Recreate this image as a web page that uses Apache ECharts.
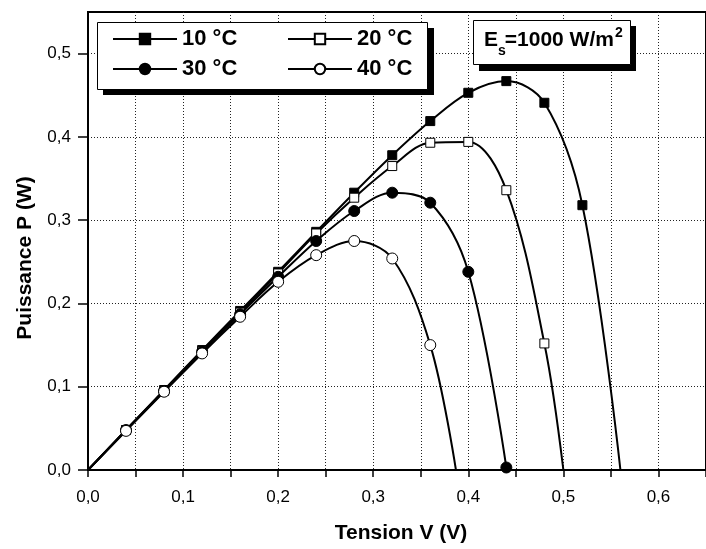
<!DOCTYPE html>
<html>
<head>
<meta charset="utf-8">
<script src="https://cdn.jsdelivr.net/npm/echarts@6/dist/echarts.min.js"></script>
<style>
  html, body { margin: 0; padding: 0; background: #fff; }
  #chart { width: 706px; height: 549px; }
</style>
</head>
<body>
<div id="chart"></div>
<script>
// tensions des points mesurés (V)
var volts = [0.04, 0.08, 0.12, 0.16, 0.20, 0.24, 0.28, 0.32, 0.36, 0.40, 0.44, 0.48, 0.52];
// puissance (W) par température
var p10 = [0.048, 0.096, 0.144, 0.191, 0.238, 0.286, 0.333, 0.378, 0.419, 0.453, 0.467, 0.441, 0.318];
var p20 = [0.048, 0.095, 0.143, 0.189, 0.236, 0.284, 0.327, 0.365, 0.393, 0.394, 0.336, 0.152];
var p30 = [0.048, 0.095, 0.142, 0.187, 0.232, 0.275, 0.311, 0.333, 0.321, 0.238, 0.003];
var p40 = [0.047, 0.094, 0.140, 0.184, 0.226, 0.258, 0.275, 0.254, 0.150];
// tension de circuit ouvert (fin de courbe)
var vOc = [0.56, 0.50, null, 0.387];
var names = ['10 °C', '20 °C', '30 °C', '40 °C'];
var xTicks = [0, 0.1, 0.2, 0.3, 0.4, 0.5, 0.6];
var yTicks = [0, 0.1, 0.2, 0.3, 0.4, 0.5];

var FONT = 'Liberation Sans, Arial, sans-serif';

function build(ps, voc) {
  var d = [{ value: [0, 0], symbol: 'none' }];
  ps.forEach(function (p, i) { d.push([volts[i], p]); });
  if (voc) d.push({ value: [voc, 0], symbol: 'none' });
  return d;
}

function fmt(v) { return v.toFixed(1).replace('.', ','); }

var dotted = { show: true, lineStyle: { color: '#222', width: 1, type: [1, 2] } };

function serie(i, ps, symbol, size, filled) {
  return {
    type: 'line',
    name: names[i],
    data: build(ps, vOc[i]),
    smooth: 0.35,
    symbol: symbol,
    symbolSize: size,
    z: 3 + i,
    lineStyle: { color: '#000', width: 2 },
    itemStyle: filled
      ? { color: '#000', borderColor: '#000', borderWidth: 1 }
      : { color: '#fff', borderColor: '#000', borderWidth: 1 },
    emphasis: { disabled: true }
  };
}

function legendAt(name, left, top) {
  return {
    data: [name], left: left, top: top, padding: 0,
    itemWidth: 64, itemHeight: 13, selectedMode: false, z: 20,
    textStyle: { fontSize: 22, fontWeight: 'bold', color: '#000', fontFamily: FONT }
  };
}

// mesure du texte pour placer indice / exposant
var ctx = document.createElement('canvas').getContext('2d');
function tw(txt, size) { ctx.font = 'bold ' + size + 'px ' + FONT; return ctx.measureText(txt).width; }
var eX = 484;
var sX = eX + tw('E', 21);
var restX = sX + tw('s', 14) - 1;
var supX = restX + tw('=1000 W/m', 21) + 1;

var chart = echarts.init(document.getElementById('chart'));
chart.setOption({
  animation: false,
  backgroundColor: '#fff',
  grid: {
    left: 88, top: 12, width: 625, height: 464,
    show: true, borderColor: '#000', borderWidth: 2, backgroundColor: 'transparent'
  },
  xAxis: {
    type: 'value', min: 0, max: 0.65, interval: 0.05,
    name: 'Tension V (V)', nameLocation: 'middle', nameGap: 53,
    nameTextStyle: { fontSize: 21, fontWeight: 'bold', color: '#000', fontFamily: FONT, padding: [0, 0, 0, 8] },
    axisLine: { show: true, onZero: false, lineStyle: { color: '#000', width: 2 } },
    axisTick: { show: true, length: 7, lineStyle: { color: '#000', width: 1.5 } },
    axisLabel: {
      customValues: xTicks, margin: 19, formatter: fmt,
      fontSize: 17, color: '#000', fontFamily: FONT
    },
    splitLine: dotted
  },
  yAxis: {
    type: 'value', min: 0, max: 0.55, interval: 0.05,
    name: 'Puissance P (W)', nameLocation: 'middle', nameGap: 52,
    nameTextStyle: { fontSize: 21, fontWeight: 'bold', color: '#000', fontFamily: FONT, padding: [0, 34, 0, 0] },
    axisLine: { show: true, onZero: false, lineStyle: { color: '#000', width: 2 } },
    axisTick: { show: true, customValues: yTicks, length: 10, lineStyle: { color: '#000', width: 1.5 } },
    axisLabel: {
      customValues: yTicks, margin: 17, formatter: fmt,
      fontSize: 17, color: '#000', fontFamily: FONT
    },
    splitLine: dotted
  },
  legend: [
    legendAt(names[0], 112, 28),
    legendAt(names[1], 287, 28),
    legendAt(names[2], 112, 58),
    legendAt(names[3], 287, 58)
  ],
  graphic: [
    { type: 'rect', z: 10, shape: { x: 103, y: 28, width: 331, height: 67 }, style: { fill: '#000' } },
    { type: 'rect', z: 11, shape: { x: 97.5, y: 22.5, width: 330, height: 67 }, style: { fill: '#fff', stroke: '#000', lineWidth: 1 } },
    { type: 'rect', z: 10, shape: { x: 479, y: 26, width: 157, height: 45 }, style: { fill: '#000' } },
    { type: 'rect', z: 11, shape: { x: 473.5, y: 20.5, width: 157, height: 44 }, style: { fill: '#fff', stroke: '#000', lineWidth: 1 } },
    { type: 'text', z: 12, style: { x: eX, y: 40, text: 'E', font: 'bold 21px ' + FONT, fill: '#000', verticalAlign: 'middle' } },
    { type: 'text', z: 12, style: { x: sX, y: 51, text: 's', font: 'bold 14px ' + FONT, fill: '#000', verticalAlign: 'middle' } },
    { type: 'text', z: 12, style: { x: restX, y: 40, text: '=1000 W/m', font: 'bold 21px ' + FONT, fill: '#000', verticalAlign: 'middle' } },
    { type: 'text', z: 12, style: { x: supX, y: 33, text: '2', font: 'bold 14px ' + FONT, fill: '#000', verticalAlign: 'middle' } }
  ],
  series: [
    serie(0, p10, 'rect', 9, true),
    serie(1, p20, 'rect', 9, false),
    serie(2, p30, 'circle', 11, true),
    serie(3, p40, 'circle', 11, false)
  ]
});
</script>
</body>
</html>
